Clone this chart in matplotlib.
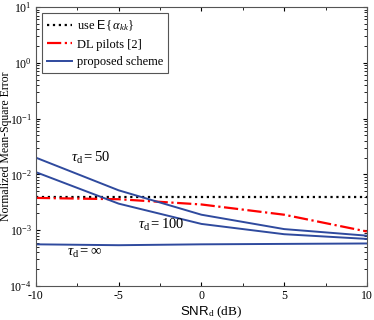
import matplotlib.pyplot as plt
import numpy as np

snr = [-10, -5, 0, 5, 10]
use_mean = [0.0039, 0.0039, 0.0039, 0.0039, 0.0039]
dl_pilots = [0.0038, 0.0036, 0.0029, 0.0019, 0.00095]
tau_50 = [0.020, 0.0052, 0.0019, 0.00105, 0.0008]
tau_100 = [0.011, 0.0030, 0.0013, 0.00085, 0.0007]
tau_inf = [0.00056, 0.00054, 0.00056, 0.00057, 0.00058]

plt.rcParams["font.family"] = ["Liberation Serif", "DejaVu Serif"]
plt.rcParams["mathtext.fontset"] = "custom"
plt.rcParams["mathtext.rm"] = "Liberation Serif"
plt.rcParams["mathtext.it"] = "Liberation Serif:italic"
plt.rcParams["mathtext.sf"] = "Liberation Sans"

blue = "#2f4a9e"

fig = plt.figure(figsize=(3.74, 3.2), dpi=100)
ax = fig.add_axes([0.096, 0.106, 0.885, 0.872])

ax.semilogy(snr, use_mean, ":", color="black", lw=1.6, label=r"use $\mathsf{E}\{\,\alpha_{kk}\}$")
ax.semilogy(snr, dl_pilots, "-.", color="red", lw=1.6, label="DL pilots [2]")
ax.semilogy(snr, tau_50, "-", color=blue, lw=1.4, label="proposed scheme")
ax.semilogy(snr, tau_100, "-", color=blue, lw=1.4)
ax.semilogy(snr, tau_inf, "-", color=blue, lw=1.4)

ax.text(-7.9, 0.017, r"$\mathit{\tau}_{\mathrm{d}} = 50$", fontsize=10.5)
ax.text(-3.85, 0.00105, r"$\mathit{\tau}_{\mathrm{d}} = 100$", fontsize=10.5)
ax.text(-8.1, 0.00035, r"$\mathit{\tau}_{\mathrm{d}} = \infty$", fontsize=10.5)

ax.set_xlim(-10, 10)
ax.set_ylim(1e-4, 10)
ax.set_xticks([-10, -5, 0, 5, 10])
ax.set_xticklabels(["-10", "-5", "0", "5", "10"])
ax.set_xticks(np.arange(-10, 10.1, 2.5), minor=True)
ax.tick_params(which="both", direction="in", top=True, right=True, labelsize=8.5, pad=3)
ax.tick_params(which="major", length=3)
ax.tick_params(which="minor", length=2)

ax.set_xlabel(r"$\mathsf{SNR}_{\mathrm{d}}$ (dB)", fontsize=9.5)
ax.xaxis.set_label_coords(0.53, -0.065)
ax.set_ylabel("Normalized Mean-Square Error", fontsize=8.5)
ax.yaxis.set_label_coords(-0.073, 0.5)

for s in ax.spines.values():
    s.set_color("#555555")
    s.set_linewidth(0.8)

leg = ax.legend(loc="upper left", fontsize=9, fancybox=False, framealpha=1,
                edgecolor="#555555", handlelength=2.0, handletextpad=0.4,
                borderpad=0.4, labelspacing=0.45)
leg.get_frame().set_linewidth(0.8)

fig.savefig("out.png", dpi=100)
